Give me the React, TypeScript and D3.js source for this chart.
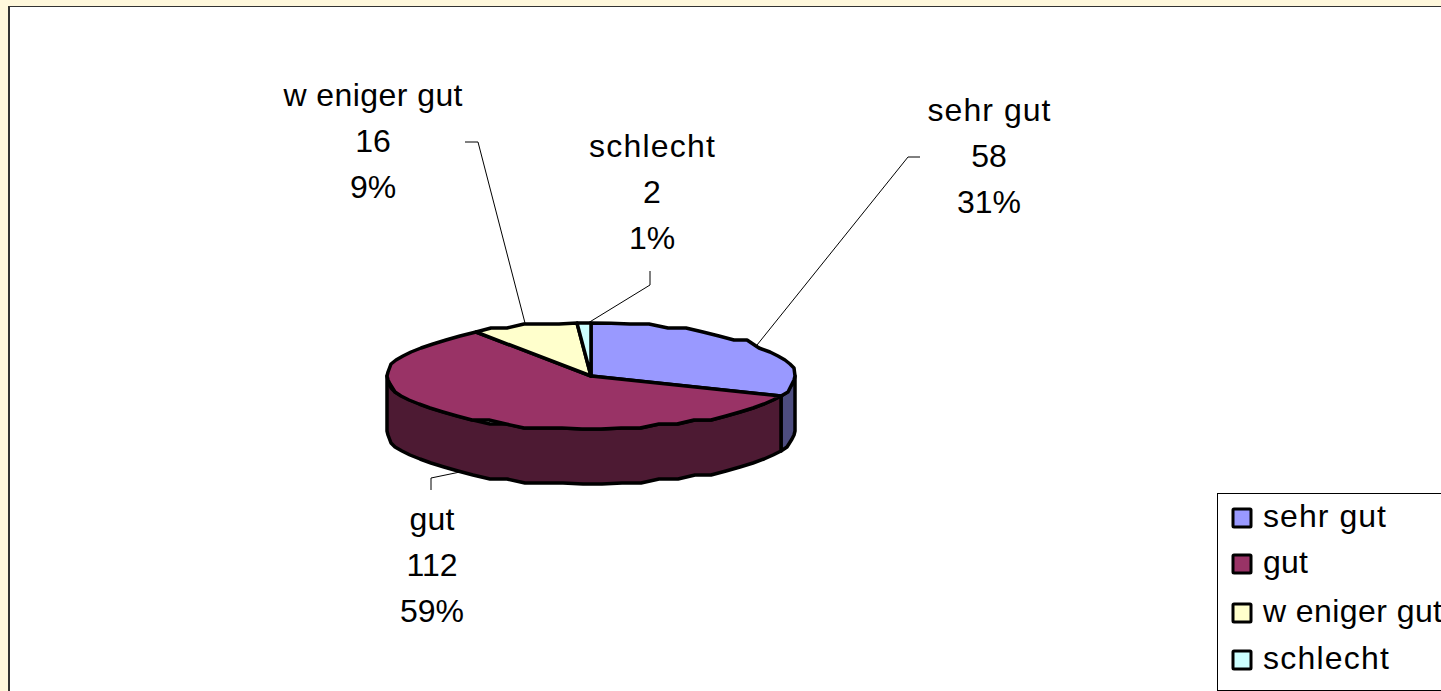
import React from "react";
import * as d3 from "d3";

const categories = ["sehr gut", "gut", "w eniger gut", "schlecht"];
const values = [58, 112, 16, 2];
const percents = ["31%", "59%", "9%", "1%"];
const topColors = ["#9999FF", "#993366", "#FFFFCC", "#CCFFFF"];
const sideColors = ["#4D4D80", "#4D1A33", "#80805F", "#668080"];
const nameWidths = [123, 45, 179, 126];

const W = 1441, H = 691;
const cx = 591, cy = 376, rx = 204, ry = 53, depth = 55;
const FONT = "'Liberation Sans', Arial, sans-serif";
const FS = 32;

const labelCenters = [
  { x: 989, y: 121 },
  { x: 432, y: 530 },
  { x: 373, y: 106 },
  { x: 652, y: 157 },
];
const leaders: [number, number][][] = [
  [[757, 345], [908, 157], [920, 157]],
  [[460, 472], [431, 478], [431, 490]],
  [[525, 323], [478, 142], [465, 142]],
  [[588, 323], [650, 285], [650, 271]],
];

const xProj = d3.scaleLinear().domain([-1, 1]).range([cx - rx, cx + rx]);
const yProj = d3.scaleLinear().domain([-1, 1]).range([cy - ry, cy + ry]);
const GRID = 4;
const pt = (a: number, dy = 0): [number, number] => {
  const y = yProj(-Math.cos(a));
  const near = Math.abs(Math.cos(a)) > 0.992;
  return [
    Math.round(xProj(Math.sin(a))),
    (near ? y : cy + Math.round((y - cy) / GRID) * GRID) + dy,
  ];
};
const STEP = (Math.PI * 2) / 64;
const arcPts = (a0: number, a1: number, dy = 0): [number, number][] => {
  const n = Math.max(1, Math.ceil((a1 - a0) / STEP));
  return d3.range(n + 1).map((i) => pt(a0 + ((a1 - a0) * i) / n, dy));
};
const line = d3.line<[number, number]>().curve(d3.curveLinear);
const path = (p: [number, number][], close = true) => line(p)! + (close ? "Z" : "");

const arcs = d3.pie<number>().sort(null)(values);

export default function App() {
  const R = Math.PI / 2, L = Math.PI * 1.5;
  const walls = arcs
    .map((a, i) => {
      const s = Math.max(a.startAngle, R), e = Math.min(a.endAngle, L);
      if (e <= s) return null;
      return { i, d: path([...arcPts(s, e), ...arcPts(s, e, depth).reverse()]) };
    })
    .filter(Boolean) as { i: number; d: string }[];

  return (
    <svg width={W} height={H} style={{ position: "absolute", left: 0, top: 0 }} fontFamily={FONT}>
      <rect x={0} y={0} width={W} height={H} fill="#FFF8DC" />
      <rect x={9} y={6.5} width={W} height={H} fill="#fff" stroke="none" />
      <line x1={9} y1={6} x2={9} y2={H} stroke="#333" strokeWidth={2} />
      <line x1={9} y1={6.5} x2={W} y2={6.5} stroke="#333" strokeWidth={1} />

      {walls.map((w) => (
        <path key={w.i} d={w.d} fill={sideColors[w.i]} stroke="#000" strokeWidth={3.5} strokeLinejoin="round" />
      ))}
      {arcs.map((a, i) => (
        <path
          key={i}
          d={path([[cx, cy], ...arcPts(a.startAngle, a.endAngle)])}
          fill={topColors[i]}
          stroke="#000"
          strokeWidth={3.5}
          strokeLinejoin="round"
        />
      ))}

      {leaders.map((l, i) => (
        <path key={i} d={path(l, false)} fill="none" stroke="#000" strokeWidth={1} />
      ))}

      {categories.map((c, i) => (
        <text key={c} textAnchor="middle" fontSize={FS} fill="#000">
          <tspan x={labelCenters[i].x} y={labelCenters[i].y} textLength={nameWidths[i]} lengthAdjust="spacing">{c}</tspan>
          <tspan x={labelCenters[i].x} y={labelCenters[i].y + 46}>{values[i]}</tspan>
          <tspan x={labelCenters[i].x} y={labelCenters[i].y + 92}>{percents[i]}</tspan>
        </text>
      ))}

      <rect x={1217.5} y={493.5} width={W} height={197} fill="#fff" stroke="#000" strokeWidth={1} />
      {categories.map((c, i) => {
        const y = [518, 564, 613, 660][i];
        return (
          <g key={c}>
            <rect x={1233} y={y - 9} width={18} height={18} rx={1} fill={topColors[i]} stroke="#000" strokeWidth={3} />
            <text x={1263} y={y + 9} fontSize={FS} fill="#000" textLength={nameWidths[i]} lengthAdjust="spacing">{c}</text>
          </g>
        );
      })}
    </svg>
  );
}
